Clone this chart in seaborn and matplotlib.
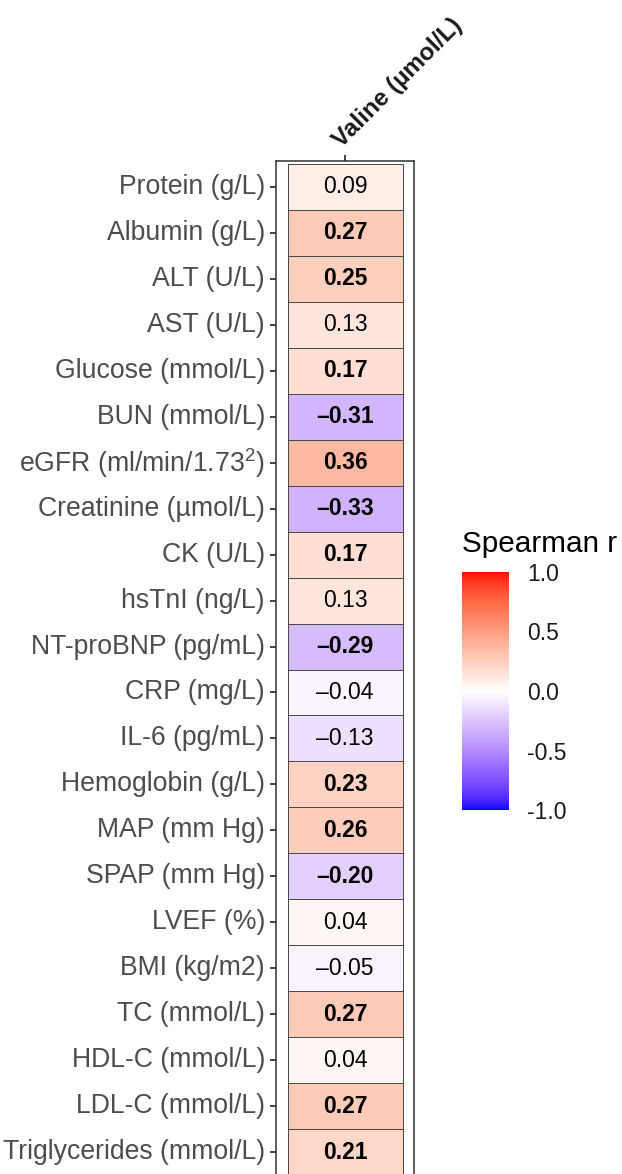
import numpy as np
import pandas as pd
import matplotlib
matplotlib.use("Agg")
import matplotlib.pyplot as plt
from matplotlib.colors import ListedColormap
import seaborn as sns

# ---------------- data ----------------
row_labels = ["Protein (g/L)", "Albumin (g/L)", "ALT (U/L)", "AST (U/L)",
              "Glucose (mmol/L)", "BUN (mmol/L)", "eGFR (ml/min/1.73$^2$)",
              "Creatinine (µmol/L)", "CK (U/L)", "hsTnI (ng/L)",
              "NT-proBNP (pg/mL)", "CRP (mg/L)", "IL-6 (pg/mL)",
              "Hemoglobin (g/L)", "MAP (mm Hg)", "SPAP (mm Hg)", "LVEF (%)",
              "BMI (kg/m2)", "TC (mmol/L)", "HDL-C (mmol/L)", "LDL-C (mmol/L)",
              "Triglycerides (mmol/L)"]
col_labels = ["Valine (µmol/L)"]
spearman_r = [0.09, 0.27, 0.25, 0.13, 0.17, -0.31, 0.36, -0.33, 0.17, 0.13,
              -0.29, -0.04, -0.13, 0.23, 0.26, -0.20, 0.04, -0.05, 0.27, 0.04,
              0.27, 0.21]
significant = [False, True, True, False, True, True, True, True, True, False,
               True, False, False, True, True, True, False, False, True, False,
               True, True]
cbar_ticks = [-1.0, -0.5, 0.0, 0.5, 1.0]
cbar_ticklabels = ["-1.0", "-0.5", "0.0", "0.5", "1.0"]

# ---------------- colour map (Lab interpolation blue-white-red) ----------------
WHITE_REF = np.array([0.95047, 1.0, 1.08883])
M = np.array([[0.4124564, 0.3575761, 0.1804375],
              [0.2126729, 0.7151522, 0.0721750],
              [0.0193339, 0.1191920, 0.9503041]])
Minv = np.linalg.inv(M)


def srgb_to_lab(c):
    c = np.asarray(c, float)
    lin = np.where(c <= 0.04045, c / 12.92, ((c + 0.055) / 1.055) ** 2.4)
    t = (M @ lin) / WHITE_REF
    d = 6 / 29
    f = np.where(t > d ** 3, np.cbrt(t), t / (3 * d * d) + 4 / 29)
    return np.array([116 * f[1] - 16, 500 * (f[0] - f[1]), 200 * (f[1] - f[2])])


def lab_to_srgb(lab):
    L, a, b = lab
    fy = (L + 16) / 116
    fx = fy + a / 500
    fz = fy - b / 200
    d = 6 / 29
    f = np.array([fx, fy, fz])
    t = np.where(f > d, f ** 3, 3 * d * d * (f - 4 / 29))
    lin = Minv @ (t * WHITE_REF)
    lin = np.clip(lin, 0, 1)
    c = np.where(lin <= 0.0031308, 12.92 * lin, 1.055 * lin ** (1 / 2.4) - 0.055)
    return np.clip(c, 0, 1)


lab_blue = srgb_to_lab([0, 0, 1])
lab_white = srgb_to_lab([1, 1, 1])
lab_red = srgb_to_lab([1, 0, 0])
cols = []
for v in np.linspace(-1, 1, 512):
    if v < 0:
        lab = lab_white + (-v) * (lab_blue - lab_white)
    else:
        lab = lab_white + v * (lab_red - lab_white)
    cols.append(lab_to_srgb(lab))
cmap = ListedColormap(cols)

# ---------------- figure ----------------
sns.set_style("white")
plt.rcParams["font.family"] = ["Liberation Sans", "DejaVu Sans"]
plt.rcParams["mathtext.default"] = "regular"
plt.rcParams["axes.unicode_minus"] = False

W, H = 622, 1174
fig = plt.figure(figsize=(W / 100, H / 100), dpi=100)


def px_axes(left, top, right, bottom):
    return fig.add_axes([left / W, 1 - bottom / H, (right - left) / W, (bottom - top) / H])


ax = px_axes(276, 161, 414, 1178)
cax = px_axes(462, 572, 509, 810)

df = pd.DataFrame({col_labels[0]: spearman_r}, index=row_labels)
annot = np.array([[("\u2013" if v < 0 else "") + f"{abs(v):.2f}"] for v in spearman_r])

sns.heatmap(df, ax=ax, cmap=cmap, vmin=-1, vmax=1, annot=annot, fmt="",
            annot_kws={"fontsize": 16.5, "color": "black"},
            linewidths=0.6, linecolor="#4a4a4a",
            cbar_ax=cax, cbar_kws={"ticks": cbar_ticks})

for txt, sig in zip(ax.texts, significant):
    if sig:
        txt.set_fontweight("bold")

ax.set_xlim(-0.1, 1.1)
ax.set_ylim(22.065, -0.065)
for s in ax.spines.values():
    s.set_visible(True)
    s.set_color("#333333")
    s.set_linewidth(1.1)

ax.set_xlabel("")
ax.set_ylabel("")
ax.set_yticklabels(row_labels, rotation=0)
ax.tick_params(axis="y", left=True, length=4.5, width=1.3, color="#333333",
               labelcolor="#4D4D4D", labelsize=19.2, pad=3.5)
ax.xaxis.tick_top()
ax.tick_params(axis="x", top=True, bottom=False, length=4.5, width=1.3,
               color="#333333", labelcolor="#1A1A1A", labelsize=17.5, pad=2)
ax.set_xticklabels(col_labels, rotation=45, ha="left", va="bottom",
                   rotation_mode="anchor", fontweight="bold")

cbar = ax.collections[0].colorbar
cbar.outline.set_visible(False)
cbar.set_ticks(cbar_ticks)
cbar.set_ticklabels(cbar_ticklabels)
cax.tick_params(axis="y", which="both", left=True, right=True, direction="in",
                length=10, width=1, color="white", labelleft=False,
                labelright=True, labelsize=16.5, labelcolor="#1A1A1A", pad=13)
cax.text(0, 1.084, "Spearman r", transform=cax.transAxes, ha="left",
         va="baseline", fontsize=21.4, color="black")

fig.savefig("out.png", dpi=100)
